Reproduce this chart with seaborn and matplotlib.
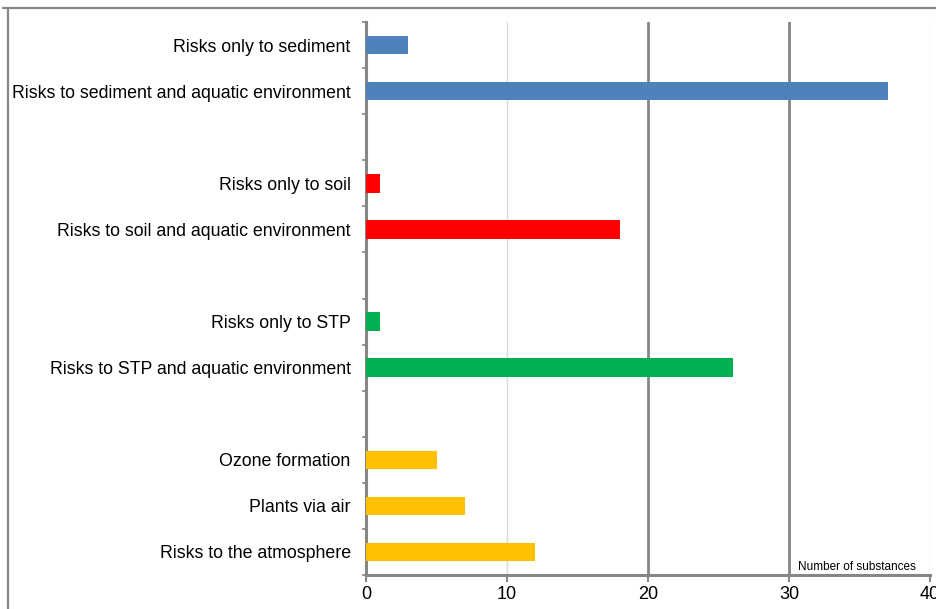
import matplotlib
matplotlib.use("Agg")
import matplotlib.pyplot as plt
from matplotlib.lines import Line2D
import seaborn as sns
import pandas as pd

# Number of substances per risk category, grouped by compartment
labels = [
    "Risks only to sediment",
    "Risks to sediment and aquatic environment",
    "Risks only to soil",
    "Risks to soil and aquatic environment",
    "Risks only to STP",
    "Risks to STP and aquatic environment",
    "Ozone formation",
    "Plants via air",
    "Risks to the atmosphere",
]
values = [3, 37, 1, 18, 1, 26, 5, 7, 12]
groups = ["sediment", "sediment", "soil", "soil", "stp", "stp", "air", "air", "air"]
x_ticks = [0, 10, 20, 30, 40]

palette = {"sediment": "#4F81BD", "soil": "#FF0000", "stp": "#00B050", "air": "#FFC000"}

# Category order with blank spacer rows between compartments
order = [
    labels[0], labels[1], "_gap1",
    labels[2], labels[3], "_gap2",
    labels[4], labels[5], "_gap3",
    labels[6], labels[7], labels[8],
]

df = pd.DataFrame({"label": labels, "value": values, "group": groups})

sns.set_theme(style="white")
plt.rcParams["font.family"] = ["Liberation Sans", "DejaVu Sans"]
plt.rcParams["text.color"] = "black"
plt.rcParams["xtick.labelcolor"] = "black"
plt.rcParams["ytick.labelcolor"] = "black"

fig = plt.figure(figsize=(9.36, 6.09), dpi=100)
ax = fig.add_axes([366 / 936, 1 - 575 / 609, (930 - 366) / 936, (575 - 22) / 609])

sns.barplot(data=df, x="value", y="label", hue="group", palette=palette,
            order=order, orient="h", width=0.4, dodge=False, legend=False,
            saturation=1, linewidth=0, ax=ax, zorder=3)

ax.set_xlim(0, 40)
ax.set_ylim(len(order) - 0.5, -0.5)
ax.set_xlabel("")
ax.set_ylabel("")

# Vertical grid lines: light at 10 and 40, heavier at 20 and 30
for xv, col, lw in [(10, "#D9D9D9", 1.0), (40, "#D9D9D9", 1.0),
                    (20, "#868686", 2.0), (30, "#868686", 2.0)]:
    ax.axvline(xv, color=col, lw=lw, zorder=1)

ax.set_xticks(x_ticks)
ax.set_xticklabels([str(v) for v in x_ticks], fontsize=13, color="black")

# Labels at category centres, tick marks at row boundaries
centres = [i for i, name in enumerate(order) if not name.startswith("_gap")]
ax.set_yticks(centres)
ax.set_yticklabels([order[i] for i in centres], fontsize=12.8, color="black")
ax.set_yticks([i - 0.5 for i in range(len(order) + 1)], minor=True)
ax.tick_params(axis="y", which="major", length=0, pad=11)
ax.tick_params(axis="y", which="minor", length=3, width=1.2, color="#868686", left=True)
ax.tick_params(axis="x", which="major", length=5, width=1.5, color="#868686",
               bottom=True, pad=3)

for side in ["top", "right"]:
    ax.spines[side].set_visible(False)
for side in ["left", "bottom"]:
    ax.spines[side].set_color("#868686")
    ax.spines[side].set_linewidth(2.2)

ax.text(0.975, 0.004, "Number of substances", transform=ax.transAxes,
        ha="right", va="bottom", fontsize=8.5, color="black")

# Outer frame lines along the top and left edges
fig.add_artist(Line2D([3 / 936, 1], [1 - 8 / 609, 1 - 8 / 609],
                      transform=fig.transFigure, color="#868686", lw=1.6))
fig.add_artist(Line2D([8 / 936, 8 / 936], [0, 1 - 8 / 609],
                      transform=fig.transFigure, color="#868686", lw=1.6))

fig.savefig("out.png", dpi=100, facecolor="white")
